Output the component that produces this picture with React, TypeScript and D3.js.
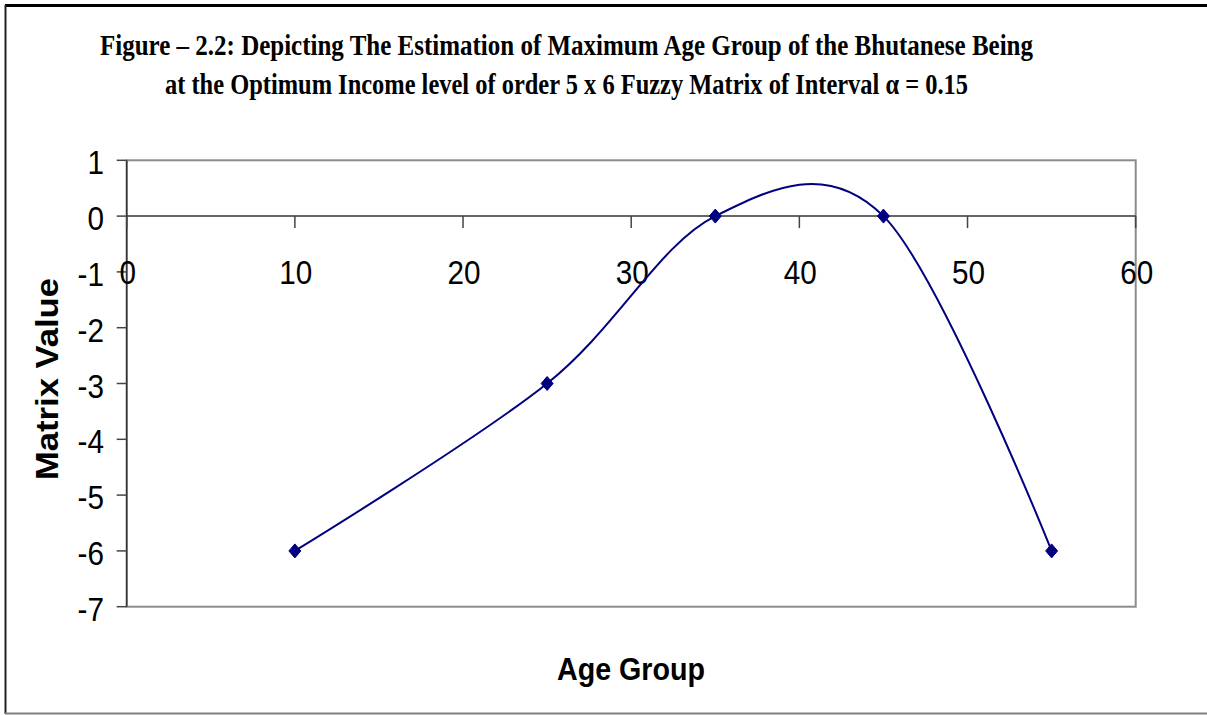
import React from "react";
import * as d3 from "d3";

const ageGroups = [10, 25, 35, 45, 55];
const matrixValues = [-6, -3, 0, 0, -6];
const xTicks = [0, 10, 20, 30, 40, 50, 60];
const yTicks = [1, 0, -1, -2, -3, -4, -5, -6, -7];
const titleLines = [
  "Figure – 2.2: Depicting The Estimation of Maximum Age Group of the Bhutanese Being",
  "at the Optimum Income level of order 5 x 6 Fuzzy Matrix of Interval α = 0.15",
];

export default function App() {
  const W = 1207;
  const H = 715;
  const left = 126.7, right = 1135.7, top = 160.3, bottom = 606.7;
  const x = d3.scaleLinear().domain([0, 60]).range([left, right]);
  const y = d3.scaleLinear().domain([-7, 1]).range([bottom, top]);
  const pts = ageGroups.map((a, i) => [a, matrixValues[i]] as [number, number]);
  const line = d3
    .line<[number, number]>()
    .x((d) => x(d[0]))
    .y((d) => y(d[1]))
    .curve(d3.curveCardinal.tension(0));
  const sans = "'Liberation Sans', Arial, sans-serif";
  const serif = "'Liberation Serif', 'Times New Roman', serif";
  const sx = 0.9;
  return (
    <svg
      width={W}
      height={H}
      style={{ position: "absolute", left: 0, top: 0, background: "#fff" }}
    >
      {/* outer chart border */}
      <line x1={5} y1={5.5} x2={W} y2={5.5} stroke="#000" strokeWidth={3} />
      <line x1={5.5} y1={5} x2={5.5} y2={714} stroke="#222" strokeWidth={2} />
      <line x1={5} y1={713.5} x2={W} y2={713.5} stroke="#808080" strokeWidth={2} />

      {/* title */}
      <text
        x={100}
        y={55}
        fontFamily={serif}
        fontWeight="bold"
        fontSize={29}
        textLength={933}
        lengthAdjust="spacingAndGlyphs"
      >
        {titleLines[0]}
      </text>
      <text
        x={165}
        y={94}
        fontFamily={serif}
        fontWeight="bold"
        fontSize={29}
        textLength={803}
        lengthAdjust="spacingAndGlyphs"
      >
        {titleLines[1]}
      </text>

      {/* plot area border */}
      <rect
        x={left}
        y={top}
        width={right - left}
        height={bottom - top}
        fill="none"
        stroke="#8c8c8c"
        strokeWidth={2}
      />
      {/* y axis */}
      <line x1={left} y1={top} x2={left} y2={bottom} stroke="#333" strokeWidth={1.5} />
      {yTicks.map((t) => (
        <g key={"y" + t}>
          <line x1={left - 10} x2={left} y1={y(t)} y2={y(t)} stroke="#444" strokeWidth={1.5} />
          <text
            transform={`translate(104,${y(t) + 14}) scale(${sx},1)`}
            textAnchor="end"
            fontFamily={sans}
            fontSize={33}
            fill="#000"
          >
            {t}
          </text>
        </g>
      ))}
      {/* x axis at y=0 */}
      <line x1={left} x2={right} y1={y(0)} y2={y(0)} stroke="#333" strokeWidth={1.5} />
      {xTicks.map((t) => (
        <g key={"x" + t}>
          <line x1={x(t)} x2={x(t)} y1={y(0)} y2={y(0) + 12} stroke="#444" strokeWidth={1.5} />
          <text
            transform={`translate(${x(t) + 1},${y(0) + 68}) scale(${sx},1)`}
            textAnchor="middle"
            fontFamily={sans}
            fontSize={33}
            fill="#000"
          >
            {t}
          </text>
        </g>
      ))}

      {/* series */}
      <path d={line(pts) || ""} fill="none" stroke="#000080" strokeWidth={2} />
      {pts.map((p, i) => {
        const cx = x(p[0]);
        const cy = y(p[1]);
        return (
          <path
            key={"m" + i}
            d={`M${cx},${cy - 7}L${cx + 6},${cy}L${cx},${cy + 7}L${cx - 6},${cy}Z`}
            fill="#000080"
            stroke="#000080"
            strokeWidth={1}
          />
        );
      })}

      {/* axis titles */}
      <text
        x={631}
        y={680}
        textAnchor="middle"
        fontFamily={sans}
        fontWeight="bold"
        fontSize={32}
        textLength={148}
        lengthAdjust="spacingAndGlyphs"
      >
        Age Group
      </text>
      <text
        transform="translate(58,379) rotate(-90)"
        textAnchor="middle"
        fontFamily={sans}
        fontWeight="bold"
        fontSize={32}
        textLength={202}
        lengthAdjust="spacingAndGlyphs"
      >
        Matrix Value
      </text>
    </svg>
  );
}
